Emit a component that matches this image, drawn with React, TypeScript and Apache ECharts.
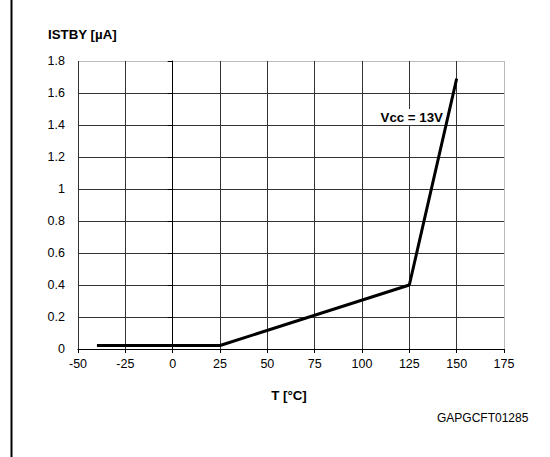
import React, { useEffect, useRef } from "react";
import * as echarts from "echarts";

const temps = [-40, 25, 125, 150];
const current = [0.022, 0.022, 0.4, 1.69];
const xTicks = [-50, -25, 0, 25, 50, 75, 100, 125, 150, 175];
const yTicks = [0, 0.2, 0.4, 0.6, 0.8, 1, 1.2, 1.4, 1.6, 1.8];

const FONT = "Liberation Sans, Arial, sans-serif";

export default function App() {
  const ref = useRef<HTMLDivElement>(null);
  useEffect(() => {
    if (!ref.current) return;
    const chart = echarts.init(ref.current, null, { renderer: "svg" });
    const xColors = xTicks.map((_, i) => (i === xTicks.length - 1 ? "#bbbbbb" : "#333333"));
    const yColors = yTicks.map((_, i) => (i === yTicks.length - 1 ? "#bbbbbb" : "#333333"));
    chart.setOption({
      animation: false,
      backgroundColor: "#ffffff",
      textStyle: { fontFamily: FONT },
      grid: { left: 78, right: 46, top: 61, bottom: 108, containLabel: false },
      xAxis: {
        type: "value",
        min: -50,
        max: 175,
        interval: 25,
        axisLine: { show: true, onZero: false, lineStyle: { color: "#000", width: 1 } },
        axisTick: { show: true, length: 4, lineStyle: { color: "#000" } },
        axisLabel: { color: "#000", fontSize: 12.5, fontFamily: FONT, margin: 8 },
        splitLine: { show: true, lineStyle: { color: xColors, width: 1 } },
      },
      yAxis: {
        type: "value",
        min: 0,
        max: 1.8,
        interval: 0.2,
        axisLine: { show: true, lineStyle: { color: "#000", width: 1 } },
        axisTick: { show: true, length: 5, lineStyle: { color: "#000" } },
        axisLabel: {
          color: "#000",
          fontSize: 12.5,
          fontFamily: FONT,
          margin: 13,
          formatter: (v: number) => String(Math.round(v * 10) / 10),
        },
        splitLine: { show: true, lineStyle: { color: yColors, width: 1 } },
      },
      graphic: [
        { type: "line", shape: { x1: 11.5, y1: 0, x2: 11.5, y2: 457 }, style: { stroke: "#000", lineWidth: 2 } },
        { type: "text", x: 48, y: 34, style: { text: "ISTBY [µA]", font: `bold 13.3px ${FONT}`, fill: "#000", textAlign: "left", textVerticalAlign: "middle" } },
        {
          type: "text",
          x: 444,
          y: 117,
          z: 3,
          style: {
            text: "Vcc = 13V",
            font: `bold 13.3px ${FONT}`,
            fill: "#000",
            textAlign: "right",
            textVerticalAlign: "middle",
            backgroundColor: "#ffffff",
            padding: [2, 1, 1, 1],
          },
        },
        { type: "text", x: 289, y: 395, style: { text: "T [°C]", font: `bold 13.3px ${FONT}`, fill: "#000", textAlign: "center", textVerticalAlign: "middle" } },
        { type: "text", x: 437, y: 418, style: { text: "GAPGCFT01285", font: `12px ${FONT}`, fill: "#000", textAlign: "left", textVerticalAlign: "middle" } },
      ],
      series: [
        {
          type: "line",
          data: temps.map((t, i) => [t, current[i]]),
          symbol: "none",
          lineStyle: { color: "#000", width: 3 },
          z: 5,
        },
      ],
    });
    return () => chart.dispose();
  }, []);
  return <div ref={ref} style={{ width: 550, height: 457, position: "absolute", left: 0, top: 0 }} />;
}
